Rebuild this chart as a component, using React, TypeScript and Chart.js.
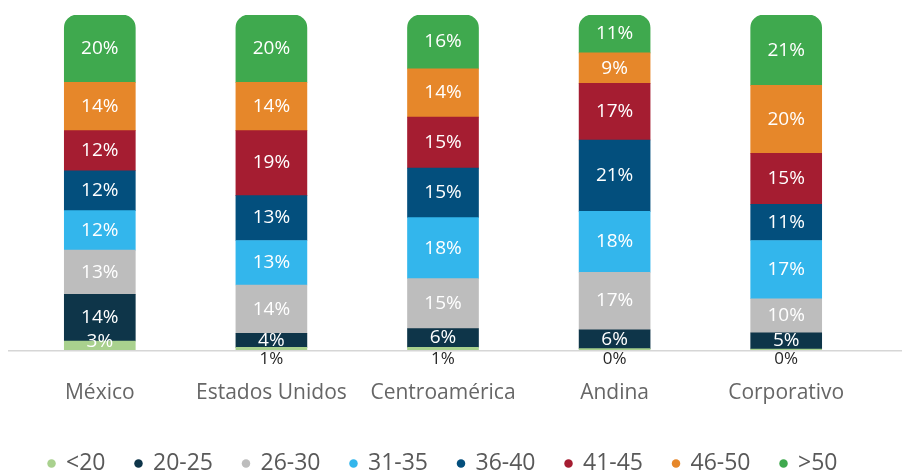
import React, { useEffect, useRef } from "react";
import { Chart, registerables } from "chart.js";

Chart.register(...registerables);

const categories = ["México", "Estados Unidos", "Centroamérica", "Andina", "Corporativo"];
const seriesNames = ["<20", "20-25", "26-30", "31-35", "36-40", "41-45", "46-50", ">50"];
const under20 = [2.7, 0.8, 0.8, 0.4, 0.3];
const s20to25 = [13.9, 4.2, 5.6, 5.6, 4.8];
const s26to30 = [13.2, 14.4, 14.9, 17.2, 10.2];
const s31to35 = [11.8, 13.3, 18.2, 18.2, 17.4];
const s36to40 = [11.9, 13.4, 14.8, 21.3, 10.8];
const s41to45 = [12.0, 19.4, 15.2, 16.9, 15.2];
const s46to50 = [14.4, 14.4, 14.4, 9.1, 20.3];
const over50 = [20.1, 20.1, 16.1, 11.3, 21.0];
const seriesColors = ["#a9d18e", "#0e3549", "#bdbdbd", "#33b6ec", "#034f7d", "#a51d31", "#e6872a", "#3fa94e"];

const FONT = "'Open Sans', 'Noto Sans', sans-serif";

const labelPlugin = {
  id: "segLabels",
  beforeDatasetsDraw(chart: any) {
    const { ctx, chartArea } = chart;
    ctx.save();
    ctx.strokeStyle = "#d6d6d6";
    ctx.lineWidth = 1.5;
    ctx.beginPath();
    ctx.moveTo(8, chartArea.bottom + 0.75);
    ctx.lineTo(chart.width - 3, chartArea.bottom + 0.75);
    ctx.stroke();
    ctx.restore();
  },
  afterDatasetsDraw(chart: any) {
    const { ctx, chartArea } = chart;
    ctx.save();
    ctx.textAlign = "center";
    ctx.textBaseline = "middle";
    chart.data.datasets.forEach((ds: any, di: number) => {
      const meta = chart.getDatasetMeta(di);
      meta.data.forEach((el: any, i: number) => {
        const v = ds.data[i] as number;
        const txt = Math.round(v) + "%";
        const { x, y, base } = el.getProps(["x", "y", "base"], true);
        if (v < 1.5) {
          ctx.fillStyle = "#262626";
          ctx.font = `17px ${FONT}`;
          ctx.fillText(txt, x, chartArea.bottom + 9);
        } else {
          ctx.fillStyle = "#ffffff";
          ctx.font = `19px ${FONT}`;
          const cy = Math.min((y + base) / 2, chartArea.bottom - 8.5);
          ctx.fillText(txt, x, cy);
        }
      });
    });
    ctx.restore();
  },
};

export default function App() {
  const ref = useRef<HTMLCanvasElement>(null);
  useEffect(() => {
    if (!ref.current) return;
    const values = [under20, s20to25, s26to30, s31to35, s36to40, s41to45, s46to50, over50];
    const datasets = seriesNames.map((name, k) => ({
      label: name,
      data: values[k],
      backgroundColor: seriesColors[k],
      borderWidth: 0,
      barThickness: 71,
      borderRadius: k === seriesNames.length - 1 ? { topLeft: 13, topRight: 13, bottomLeft: 0, bottomRight: 0 } : 0,
      borderSkipped: k === seriesNames.length - 1 ? false : "start",
    }));
    const chart = new Chart(ref.current, {
      type: "bar",
      data: { labels: categories, datasets },
      options: {
        animation: false,
        responsive: false,
        layout: { padding: { top: 15, left: 14, right: 33, bottom: -12 } },
        scales: {
          x: {
            stacked: true,
            grid: { display: false, drawTicks: false },
            border: { display: false },
            ticks: { color: "#666666", font: { family: FONT, size: 21 }, padding: 30 },
            afterFit: (scale: any) => {
              scale.height = 72;
            },
          },
          y: {
            stacked: true,
            display: false,
            min: 0,
            max: 100,
          },
        },
        plugins: {
          tooltip: { enabled: false },
          legend: {
            position: "bottom",
            labels: {
              usePointStyle: true,
              pointStyle: "circle",
              boxWidth: 6,
              boxHeight: 6,
              padding: 30,
              color: "#595959",
              font: { family: FONT, size: 23 },
            },
          },
        },
      },
      plugins: [labelPlugin],
    } as any);
    return () => chart.destroy();
  }, []);
  return (
    <div style={{ position: "fixed", left: 0, top: 0, width: 905, height: 473, background: "#fff" }}>
      <canvas ref={ref} width={905} height={473} />
    </div>
  );
}
